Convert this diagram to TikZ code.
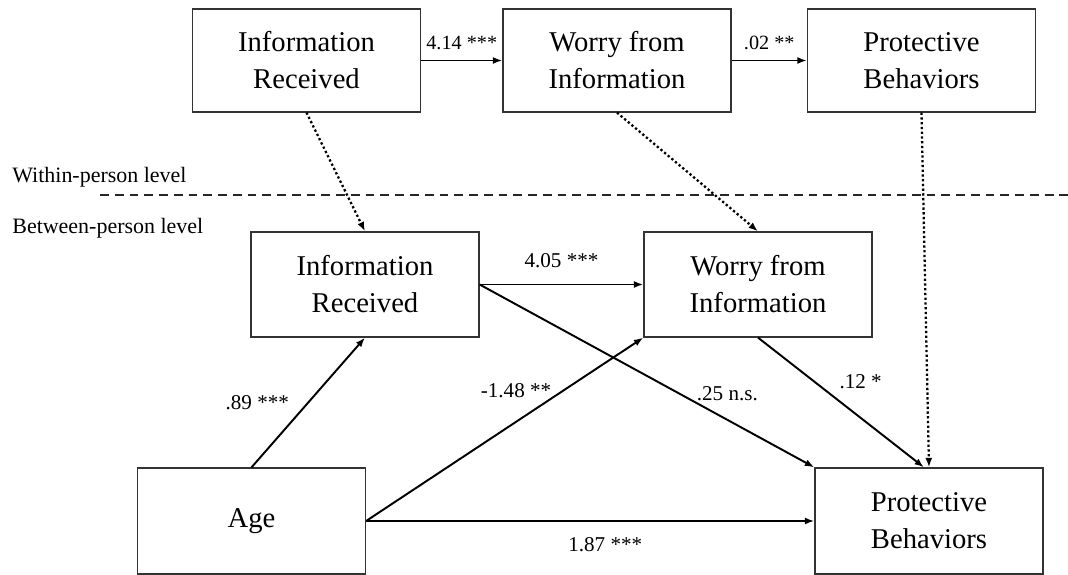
\documentclass[tikz,border=0pt]{standalone}
\usepackage{fontspec}
\setmainfont{Liberation Serif}
\usetikzlibrary{arrows.meta}
\usetikzlibrary{positioning}
\usetikzlibrary{calc}

\begin{document}
\begin{tikzpicture}[
    >={Latex[length=1.9mm, width=1.4mm]},
    var/.style = {
      draw = black!80, line width = 0.7pt,
      align = center,
      minimum width = 4.56cm,
      minimum height = 2.1cm,
      inner sep = 0pt,
      font = \fontsize{16.3}{21}\selectfont,
    },
    effect/.style = {line width = 1.1pt, ->},
    crosslevel/.style = {
      line width = 1.3pt, ->,
      dash pattern = on 1.3pt off 1.4pt,
    },
    coef/.style = {font = \fontsize{12}{14}\selectfont},
    topcoef/.style = {font = \fontsize{11.5}{13}\selectfont},
    level/.style = {
      anchor = west, inner sep = 0pt,
      font = \fontsize{12.5}{15}\selectfont,
    },
  ]

  \useasboundingbox (0,0) rectangle (21.36,-11.5);

  \node[var, minimum height = 2.06cm] (topIR) at (6.13,-1.21)
    {Information\\Received};
  \node[var, minimum height = 2.06cm] (topWorry) at (12.34,-1.21)
    {Worry from\\Information};
  \node[var, minimum height = 2.06cm] (topPB) at (18.43,-1.21)
    {Protective\\Behaviors};

  \draw[effect] (topIR) to node[topcoef, midway, above, yshift=0.8mm] {4.14 ***} (topWorry);
  \draw[effect] (topWorry) to node[topcoef, midway, above, yshift=0.8mm] {.02 **} (topPB);

  \node[level] (within) at (0.24,-3.55) {Within-person level};
  \node[level] (between) at (0.24,-4.57) {Between-person level};

  \coordinate (levelL) at (2.0,-3.9);
  \coordinate (levelR) at (21.36,-3.9);
  \draw[black!85, line width = 0.7pt, dash pattern = on 5pt off 3.4pt]
    (levelL) -- (levelR);

  \node[var] (midIR) at (7.30,-5.69) {Information\\Received};
  \node[var] (midWorry) at (15.16,-5.69) {Worry from\\Information};
  \node[var, minimum height = 2.12cm] (age) at (5.03,-10.42) {Age};
  \node[var, minimum height = 2.12cm] (botPB) at (18.58,-10.42)
    {Protective\\Behaviors};

  \draw[crosslevel] (topIR.south) to (midIR.north);
  \draw[crosslevel] (topWorry.south) to (midWorry.north);
  \draw[crosslevel] (topPB.south) to (botPB.north);

  \draw[effect] (midIR.east) to node[coef, midway, above, yshift=2mm] {4.05 ***} (midWorry.west);
  \draw[effect] (midIR.east) to
    node[coef, pos=0.74, above, yshift=2.5mm] {.25 n.s.} (botPB.north west);
  \draw[effect] (midWorry.south) to
    node[coef, pos=0.45, above right] {.12 *} ([xshift=-1mm]botPB.north);

  \draw[effect] (age.north) to
    node[coef, midway, left, xshift=-2.5mm] {.89 ***} (midIR.south);
  \draw[effect] (age.east) to
    node[coef, pos=0.71, left, xshift=-1mm] {-1.48 **} (midWorry.south west);
  \draw[effect] (age.east) to
    node[coef, midway, below, xshift=3mm, yshift=-2mm] {1.87 ***} (botPB.west);
\end{tikzpicture}
\end{document}
